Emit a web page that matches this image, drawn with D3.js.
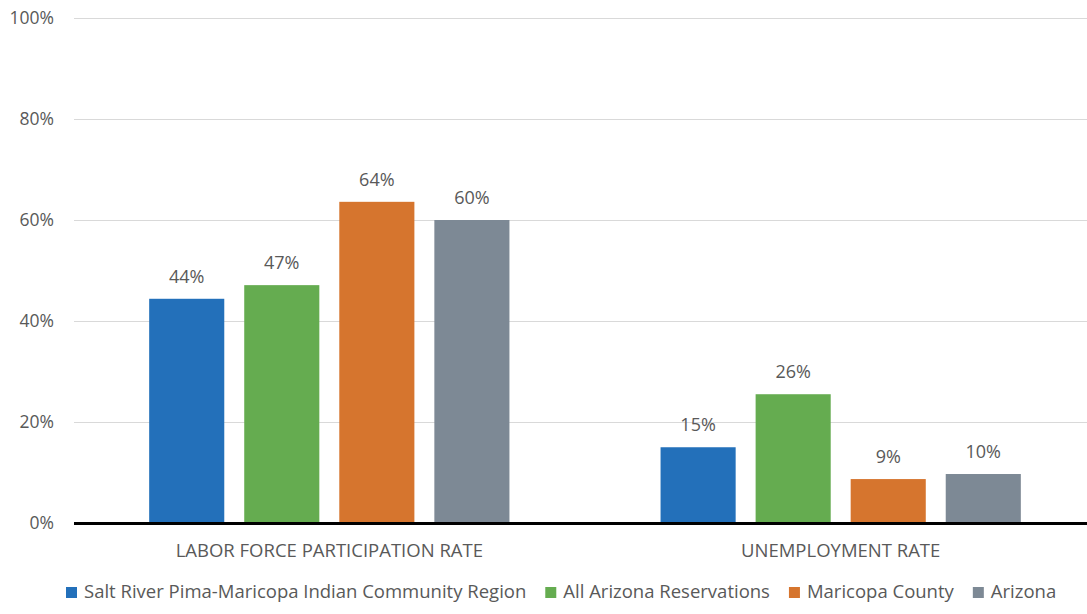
<!DOCTYPE html>
<html>
<head>
<meta charset="utf-8">
<script src="https://cdn.jsdelivr.net/npm/d3@7"></script>
<style>
  body { margin: 0; background: #fff; }
  text { font-family: "Open Sans", sans-serif; fill: #595959; }
</style>
</head>
<body>
<svg id="chart"></svg>
<script>
// chart data
const categories = ["LABOR FORCE PARTICIPATION RATE", "UNEMPLOYMENT RATE"];
const seriesNames = ["Salt River Pima-Maricopa Indian Community Region", "All Arizona Reservations", "Maricopa County", "Arizona"];
const seriesColors = ["#2370ba", "#65ac50", "#d6752e", "#7d8995"];
const saltRiver = [44.4, 15.0];
const allReservations = [47.1, 25.5];
const maricopa = [63.6, 8.7];
const arizona = [60.0, 9.7];
const yTicks = [0, 20, 40, 60, 80, 100];

const seriesValues = [saltRiver, allReservations, maricopa, arizona];

const width = 1087, height = 614;
const margin = { top: 18, left: 74, bottom: 91 };

const svg = d3.select("#chart")
    .attr("width", width)
    .attr("height", height);

const y = d3.scaleLinear()
    .domain([0, 100])
    .range([height - margin.bottom, margin.top]);

// groups
const x0 = d3.scaleBand()
    .domain(categories)
    .range([margin.left, 1096])
    .paddingInner(0.2955)
    .paddingOuter(0.147);

const x1 = d3.scaleBand()
    .domain(seriesNames)
    .range([0, x0.bandwidth()])
    .paddingInner(0.21);

// gridlines
svg.append("g")
    .selectAll("line")
    .data(yTicks.filter(d => d > 0))
    .join("line")
    .attr("x1", margin.left)
    .attr("x2", width)
    .attr("y1", d => y(d) + 0.5)
    .attr("y2", d => y(d) + 0.5)
    .attr("stroke", "#d9d9d9")
    .attr("stroke-width", 1);

// y axis labels
svg.append("g")
    .selectAll("text")
    .data(yTicks)
    .join("text")
    .attr("x", 54)
    .attr("y", d => y(d))
    .attr("dy", "0.36em")
    .attr("text-anchor", "end")
    .attr("font-size", "17.5px")
    .text(d => d + "%");

// bars
const rows = [];
categories.forEach((c, i) => {
    seriesNames.forEach((s, j) => {
        rows.push({ cat: c, series: s, value: seriesValues[j][i], color: seriesColors[j] });
    });
});

svg.append("g")
    .selectAll("rect")
    .data(rows)
    .join("rect")
    .attr("x", d => x0(d.cat) + x1(d.series))
    .attr("y", d => y(d.value))
    .attr("width", x1.bandwidth())
    .attr("height", d => y(0) - y(d.value))
    .attr("fill", d => d.color);

// data labels
svg.append("g")
    .selectAll("text")
    .data(rows)
    .join("text")
    .attr("x", d => x0(d.cat) + x1(d.series) + x1.bandwidth() / 2)
    .attr("y", d => y(d.value) - 16)
    .attr("text-anchor", "middle")
    .attr("font-size", "18px")
    .text(d => Math.round(d.value) + "%");

// baseline
svg.append("line")
    .attr("x1", margin.left)
    .attr("x2", width)
    .attr("y1", y(0) + 0.5)
    .attr("y2", y(0) + 0.5)
    .attr("stroke", "#000")
    .attr("stroke-width", 3);

// category labels
svg.append("g")
    .selectAll("text")
    .data(categories)
    .join("text")
    .attr("x", d => x0(d) + x0.bandwidth() / 2)
    .attr("y", 557)
    .attr("text-anchor", "middle")
    .attr("font-size", "18.5px")
    .text(d => d);

// legend
const legend = svg.append("g").attr("transform", "translate(66,598)");
let lx = 0;
seriesNames.forEach((s, j) => {
    const item = legend.append("g").attr("transform", `translate(${lx},0)`);
    item.append("rect")
        .attr("x", 0)
        .attr("y", -11)
        .attr("width", 11)
        .attr("height", 11)
        .attr("fill", seriesColors[j]);
    const t = item.append("text")
        .attr("x", 18)
        .attr("y", 0)
        .attr("font-size", "18.5px")
        .text(s);
    lx += 18 + t.node().getComputedTextLength() + 19;
});
</script>
</body>
</html>
